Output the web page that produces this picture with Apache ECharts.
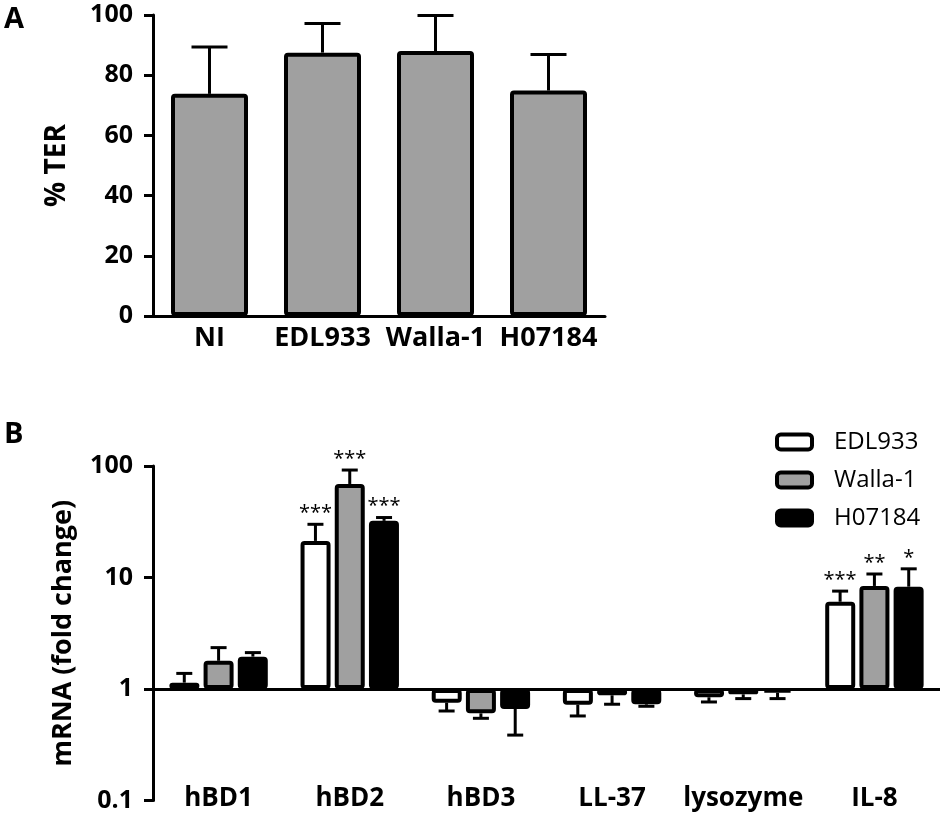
<!DOCTYPE html>
<html>
<head>
<meta charset="utf-8">
<script src="https://cdn.jsdelivr.net/npm/echarts@6/dist/echarts.min.js"></script>
<style>
    html, body { margin: 0; padding: 0; background: #fff; }
    #main { width: 945px; height: 822px; }
</style>
</head>
<body>
<div id="main"></div>
<script>
    // Panel A: transepithelial resistance
    var terCats = ['NI', 'EDL933', 'Walla-1', 'H07184'];
    var terMean = [73.8, 87.5, 88.0, 74.9];
    var terUpper = [89.4, 97.2, 99.8, 86.9];

    // Panel B: mRNA fold change (error value = end of the error bar)
    var genes = ['hBD1', 'hBD2', 'hBD3', 'LL-37', 'lysozyme', 'IL-8'];
    var strains = ['EDL933', 'Walla-1', 'H07184'];
    var edlMean = [1.14, 21.3, 0.754, 0.723, 0.843, 6.06];
    var edlErr = [1.38, 30.0, 0.635, 0.573, 0.765, 7.55];
    var wallaMean = [1.79, 69, 0.605, 0.878, 0.896, 8.4];
    var wallaErr = [2.35, 92, 0.546, 0.73, 0.82, 10.75];
    var h07Mean = [1.95, 32.2, 0.662, 0.729, 0.927, 8.27];
    var h07Err = [2.12, 34.5, 0.386, 0.70, 0.82, 11.96];
    var edlSig = ['', '***', '', '', '', '***'];
    var wallaSig = ['', '***', '', '', '', '**'];
    var h07Sig = ['', '***', '', '', '', '*'];

    var FONT = 'Open Sans';
    var chart = echarts.init(document.getElementById('main'));

    var means = [edlMean, wallaMean, h07Mean];
    var errs = [edlErr, wallaErr, h07Err];
    var sigs = [edlSig, wallaSig, h07Sig];
    var fills = ['#ffffff', '#a0a0a0', '#000000'];

    var errDataB = [];
    for (var s = 0; s < 3; s++) {
        for (var i = 0; i < genes.length; i++) {
            errDataB.push([i, means[s][i], errs[s][i], s]);
        }
    }
    var errDataA = terCats.map(function (c, i) {
        return [i, terMean[i], terUpper[i], 0];
    });

    function errorBars(offsets, capHalf, withSig) {
        return function (params, api) {
            var cat = api.value(0);
            var s = api.value(3);
            var base = api.coord([cat, api.value(1)]);
            var tip = api.coord([cat, api.value(2)]);
            var x = base[0] + offsets[s];
            var st = {stroke: '#000', lineWidth: 3};
            var children = [
                {type: 'line', shape: {x1: x, y1: base[1], x2: x, y2: tip[1]}, style: st},
                {type: 'line', shape: {x1: x - capHalf, y1: tip[1], x2: x + capHalf, y2: tip[1]}, style: st}
            ];
            if (withSig && sigs[s][cat]) {
                children.push({
                    type: 'text',
                    style: {
                        text: sigs[s][cat], x: x, y: tip[1] - 1,
                        align: 'center', verticalAlign: 'bottom',
                        font: '20px "' + FONT + '"', fill: '#000'
                    }
                });
            }
            return {type: 'group', children: children};
        };
    }

    function boldLabel(size, margin) {
        return {color: '#000', fontFamily: FONT, fontWeight: 'bold', fontSize: size, interval: 0, margin: margin};
    }

    var barSeriesB = strains.map(function (name, s) {
        var ser = {
            name: name,
            type: 'bar',
            xAxisIndex: 1,
            yAxisIndex: 1,
            barWidth: 30,
            barGap: '14%',
            data: means[s],
            itemStyle: {color: fills[s], borderColor: '#000', borderWidth: 4, borderRadius: 2},
            emphasis: {disabled: true}
        };
        if (s === 0) {
            ser.markLine = {
                silent: true,
                symbol: 'none',
                label: {show: false},
                lineStyle: {color: '#000', width: 3, type: 'solid'},
                data: [{yAxis: 1}]
            };
        }
        return ser;
    });

    var option = {
        animation: false,
        title: [
            {text: 'A', left: 4, top: 5, padding: 0,
                textStyle: {fontFamily: FONT, fontWeight: 'bold', fontSize: 29, color: '#000'}},
            {text: 'B', left: 4, top: 420, padding: 0,
                textStyle: {fontFamily: FONT, fontWeight: 'bold', fontSize: 29, color: '#000'}}
        ],
        legend: {
            data: strains,
            orient: 'vertical',
            left: 775,
            top: 430,
            padding: 0,
            itemWidth: 35,
            itemHeight: 15,
            itemGap: 14,
            selectedMode: false,
            itemStyle: {borderWidth: 4, borderColor: '#000'},
            textStyle: {fontFamily: FONT, fontSize: 24, color: '#000', padding: [0, 0, 0, 17]}
        },
        grid: [
            {left: 153, top: 15, width: 452, height: 301},
            {left: 153, top: 466, width: 787, height: 334.5}
        ],
        xAxis: [
            {
                type: 'category', gridIndex: 0, data: terCats,
                axisLine: {lineStyle: {color: '#000', width: 3}},
                axisTick: {show: false},
                axisLabel: boldLabel(27, 9)
            },
            {
                type: 'category', gridIndex: 1, data: genes,
                axisLine: {show: false},
                axisTick: {show: false},
                axisLabel: boldLabel(26, -15)
            }
        ],
        yAxis: [
            {
                type: 'value', gridIndex: 0, min: 0, max: 100, interval: 20,
                name: '% TER', nameLocation: 'middle', nameGap: 82,
                nameTextStyle: {color: '#000', fontFamily: FONT, fontWeight: 'bold', fontSize: 28},
                axisLine: {show: true, lineStyle: {color: '#000', width: 3}},
                axisTick: {show: true, length: 9, lineStyle: {width: 3}},
                axisLabel: boldLabel(25, 20),
                splitLine: {show: false}
            },
            {
                type: 'log', gridIndex: 1, logBase: 10, min: 0.1, max: 100,
                name: 'mRNA (fold change)', nameLocation: 'middle', nameGap: 76,
                nameTextStyle: {color: '#000', fontFamily: FONT, fontWeight: 'bold', fontSize: 27},
                axisLine: {show: true, lineStyle: {color: '#000', width: 3}},
                axisTick: {show: true, length: 9, lineStyle: {width: 3}},
                minorTick: {show: false},
                axisLabel: boldLabel(25, 20),
                splitLine: {show: false}
            }
        ],
        series: [
            {
                name: '% TER',
                type: 'bar',
                xAxisIndex: 0,
                yAxisIndex: 0,
                barWidth: 77,
                data: terMean,
                itemStyle: {color: '#a0a0a0', borderColor: '#000', borderWidth: 4, borderRadius: 2},
                emphasis: {disabled: true}
            },
            {
                type: 'custom',
                xAxisIndex: 0,
                yAxisIndex: 0,
                z: 1,
                data: errDataA,
                renderItem: errorBars([0], 18, false)
            }
        ].concat(barSeriesB).concat([
            {
                type: 'custom',
                xAxisIndex: 1,
                yAxisIndex: 1,
                z: 1,
                data: errDataB,
                renderItem: errorBars([-34.3, 0, 34.3], 8, true)
            }
        ])
    };

    chart.setOption(option);
</script>
</body>
</html>
